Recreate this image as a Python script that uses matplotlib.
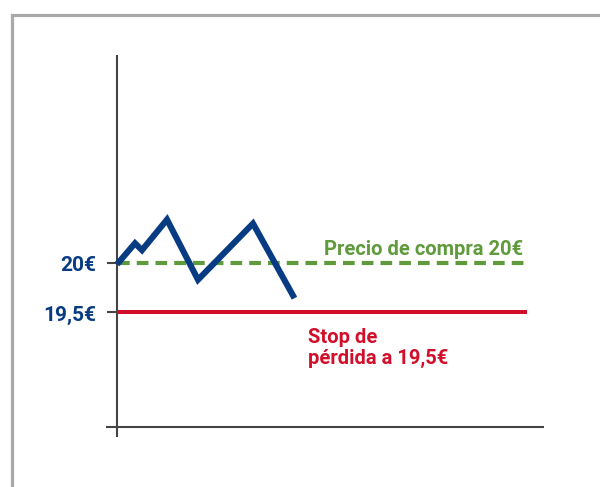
import matplotlib
matplotlib.use('Agg')
import matplotlib.pyplot as plt
from matplotlib.patches import Rectangle

plt.rcParams['font.family'] = ['Roboto', 'DejaVu Sans']

# price path (time units, euros)
t = [0.2, 1.8, 2.5, 5.0, 8.1, 13.6, 17.6]
price = [20.01, 20.2, 20.13, 20.44, 19.83, 20.4, 19.67]

buy_price = 20.0
stop_price = 19.5
tick_labels = ['20€', '19,5€']
buy_label = 'Precio de compra 20€'
stop_label = 'Stop de\npérdida a 19,5€'

blue = '#073c83'
green = '#5f9a3c'
red = '#d20f2a'
axis_col = '#444444'

fig = plt.figure(figsize=(6, 4.87), dpi=100)
ax = fig.add_axes([0, 0, 1, 1])
ax.set_xlim(-11.7, 48.3)
ax.set_ylim(17.728, 22.667)
ax.axis('off')

# frame (gray, only top/left visible)
fig.patches.append(Rectangle((11.5 / 600, -0.1), 1.2, (487 - 14.5) / 487 + 0.1,
                             transform=fig.transFigure, fill=False,
                             edgecolor='#a9a9a9', linewidth=2.3))

# axes
ax.plot([0, 0], [18.24, 22.11], color=axis_col, lw=1.5, solid_capstyle='butt')
ax.plot([-1.1, 42.7], [18.34, 18.34], color=axis_col, lw=1.5, solid_capstyle='butt')
for y in [buy_price, stop_price]:
    ax.plot([-1.0, 0], [y, y], color=axis_col, lw=1.5, solid_capstyle='butt')

# reference lines
ax.plot([0.1, 41], [buy_price, buy_price], color=green, lw=3.0,
        dashes=(2.8, 1.7), solid_capstyle='butt')
ax.plot([0.1, 41], [stop_price, stop_price], color=red, lw=2.9,
        solid_capstyle='butt')

# price path
ax.plot(t, price, color=blue, lw=4.4, solid_joinstyle='miter')

# labels
for y, lab in zip([buy_price, stop_price], tick_labels):
    ax.text(-2.1, y - 0.03, lab, ha='right', va='center', color=blue,
            fontsize=15, fontweight='bold')

ax.text(40.6, buy_price + 0.14, buy_label, ha='right', va='center',
        color=green, fontsize=14.5, fontweight='bold')
ax.text(19.1, stop_price - 0.16, stop_label, ha='left', va='top',
        color=red, fontsize=14.5, fontweight='bold', linespacing=1.1)

fig.savefig('out.png', dpi=100)
